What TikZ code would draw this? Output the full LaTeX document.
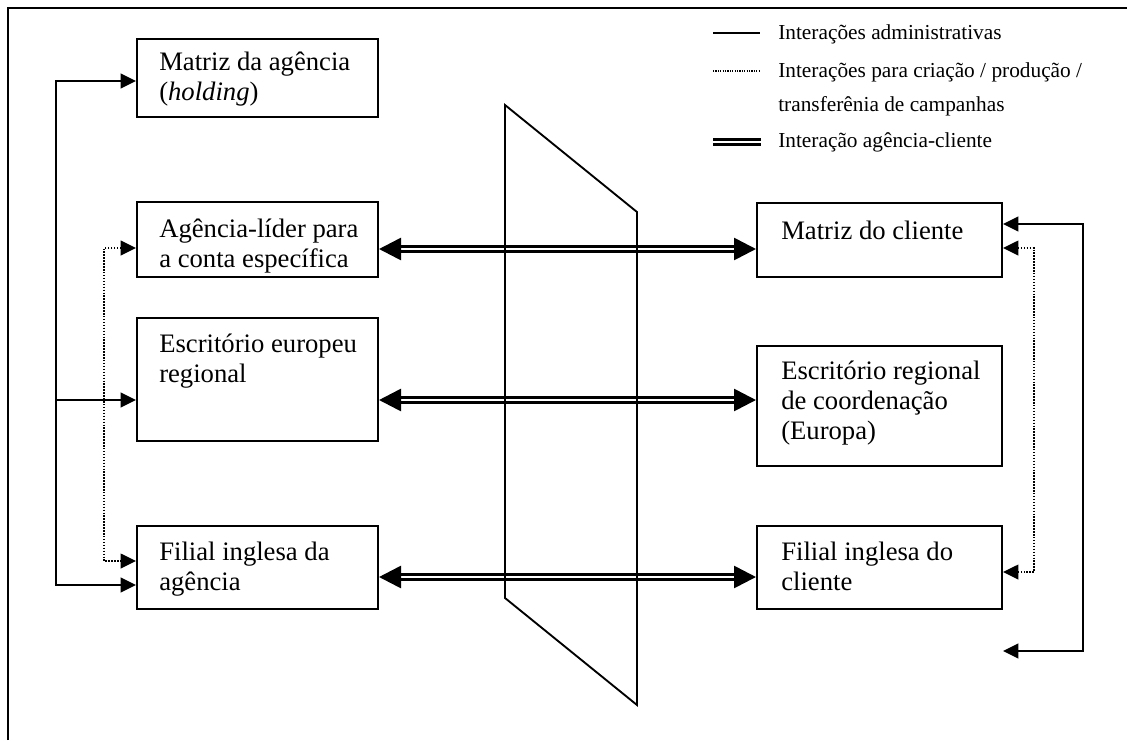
\documentclass[tikz,border=0pt]{standalone}
\usepackage{fontspec}
\setmainfont{Liberation Serif}
\usetikzlibrary{arrows.meta,calc,fit}

% Units: one unit = 0.75pt, y axis pointing down
\tikzset{
  x=0.75pt, y=-0.75pt,
  unit box/.style={draw, line width=1.5pt, rectangle, inner sep=0pt},
  boxtext/.style={anchor=base west, inner sep=0pt, font=\fontsize{20}{22.5}\selectfont},
  legtext/.style={anchor=base west, inner sep=0pt, font=\fontsize{16}{18}\selectfont},
  tri/.tip={Triangle[length=11.5pt,width=11pt]},
  bigtri/.tip={Triangle[length=16.5pt,width=16.5pt]},
  adm/.style={line width=1.4pt},
  cre/.style={line width=1.2pt, dash pattern=on 1.1pt off 1.1pt},
  cli/.style={line width=2pt, double, double distance=2pt},
}
\newcommand\twolines[2]{\vtop{\hbox{#1}\hbox{#2}}}
\newcommand\threelines[3]{\vtop{\hbox{#1}\hbox{#2}\hbox{#3}}}

\begin{document}
\begin{tikzpicture}
\useasboundingbox (0,0) rectangle (1127,740);

% outer frame
\draw[line width=1.8pt] (8,740) -- (8,8) -- (1127,8);

% agency side
\node[unit box, fit={(137,39) (378,117)}] (A1) {};
\node[unit box, fit={(137,202) (378,277)}] (A2) {};
\node[unit box, fit={(137,318) (378,441)}] (A3) {};
\node[unit box, fit={(137,526) (378,609)}] (A4) {};
\node[boxtext] (A1t) at (159,70) {\twolines{Matriz da agência}{(\textit{holding})}};
\node[boxtext] (A2t) at (159,237) {\twolines{Agência-líder para}{a conta específica}};
\node[boxtext] (A3t) at (159,352) {\twolines{Escritório europeu}{regional}};
\node[boxtext] (A4t) at (159,560) {\twolines{Filial inglesa da}{agência}};

% client side
\node[unit box, fit={(757,203) (1002,277)}] (C1) {};
\node[unit box, fit={(757,346) (1002,466)}] (C2) {};
\node[unit box, fit={(757,526) (1002,609)}] (C3) {};
\node[boxtext] (C1t) at (781,239) {Matriz do cliente};
\node[boxtext] (C2t) at (781,379) {\threelines{Escritório regional}{de coordenação}{(Europa)}};
\node[boxtext] (C3t) at (781,560) {\twolines{Filial inglesa do}{cliente}};

% connection points on the box edges
\coordinate (A1adm) at ($(A1.north west)+(0,43)$);
\coordinate (A2cre) at ($(A2.north west)+(0,47)$);
\coordinate (A3adm) at ($(A3.north west)+(0,83)$);
\coordinate (A4cre) at ($(A4.north west)+(0,36)$);
\coordinate (A4adm) at ($(A4.north west)+(0,60)$);
\coordinate (A2cli) at ($(A2.north east)+(0,48)$);
\coordinate (A3cli) at ($(A3.north east)+(0,83)$);
\coordinate (A4cli) at ($(A4.north east)+(0,52)$);
\coordinate (C1cli) at ($(C1.north west)+(0,47)$);
\coordinate (C2cli) at ($(C2.north west)+(0,55)$);
\coordinate (C3cli) at ($(C3.north west)+(0,52)$);
\coordinate (C1adm) at ($(C1.north east)+(0,22)$);
\coordinate (C1cre) at ($(C1.north east)+(0,46)$);
\coordinate (C3cre) at ($(C3.north east)+(0,47)$);
\coordinate (Cfree) at ($(C3.south east)+(0,41)$);
\coordinate (Ajoin) at ($(A3adm)+(-80,0)$);

% administrative interactions
\draw[adm,{tri}-{tri}] (A1adm) -- ++(-80,0) |- (A4adm);
\draw[adm,-{tri}] (Ajoin) -- (A3adm);
\draw[adm,{tri}-{tri}] (Cfree) -- ++(80,0) |- (C1adm);

% creation / production interactions
\draw[cre,{tri}-{tri}] (A2cre) -- ++(-32,0) |- (A4cre);
\draw[cre,{tri}-{tri}] (C1cre) -- ++(31,0) |- (C3cre);

% agency-client interactions
\draw[cli,{bigtri}-{bigtri}] (A2cli) -- (C1cli);
\draw[cli,{bigtri}-{bigtri}] (A3cli) -- (C2cli);
\draw[cli,{bigtri}-{bigtri}] (A4cli) -- (C3cli);

% dividing plane
\draw[line width=1.4pt, line join=miter] (505,105) -- (637,212) -- (637,705) -- (505,598) -- cycle;

% legend
\coordinate (L1a) at (713,33);  \coordinate (L1b) at (760,33);
\coordinate (L2a) at (713,71);  \coordinate (L2b) at (760,71);
\coordinate (L3a) at (713,142); \coordinate (L3b) at (761,142);
\draw[line width=1.4pt] (L1a) -- (L1b);
\draw[line width=0.9pt, dash pattern=on 0.9pt off 0.9pt] (L2a) -- (L2b);
\draw[line width=1.8pt, double, double distance=2pt] (L3a) -- (L3b);
\node[legtext] (Lt1) at (778,39) {Interações administrativas};
\node[legtext] (Lt2) at (778,77) {Interações para criação / produção /};
\node[legtext] (Lt3) at (778,111) {transferênia de campanhas};
\node[legtext] (Lt4) at (778,147) {Interação agência-cliente};
\end{tikzpicture}
\end{document}
